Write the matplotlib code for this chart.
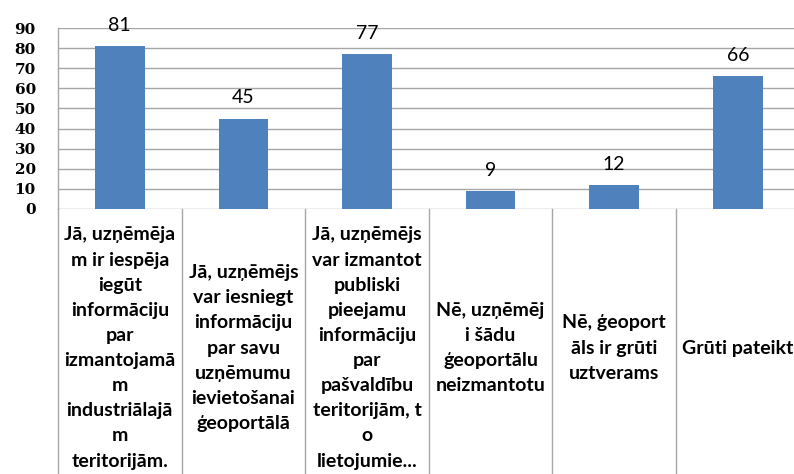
import matplotlib
matplotlib.use("Agg")
import matplotlib.pyplot as plt
import matplotlib.transforms as mtransforms

# survey answers and counts
categories = [
    "Jā, uzņēmēja\nm ir iespēja\niegūt\ninformāciju\npar\nizmantojamā\nm\nindustriālajā\nm\nteritorijām.",
    "Jā, uzņēmējs\nvar iesniegt\ninformāciju\npar savu\nuzņēmumu\nievietošanai\nģeoportālā",
    "Jā, uzņēmējs\nvar izmantot\npubliski\npieejamu\ninformāciju\npar\npašvaldību\nteritorijām, t\no\nlietojumie...",
    "Nē, uzņēmēj\ni šādu\nģeoportālu\nneizmantotu",
    "Nē, ģeoport\nāls ir grūti\nuztverams",
    "Grūti pateikt",
]
values = [81, 45, 77, 9, 12, 66]
yticks_vals = [0, 10, 20, 30, 40, 50, 60, 70, 80, 90]

bar_color = "#4F81BD"
grid_color = "#A6A6A6"

fig = plt.figure(figsize=(7.94, 4.74), dpi=100)
ax = fig.add_axes([58 / 794, 1 - 209 / 474, 736 / 794, 181 / 474])

x = list(range(len(values)))
ax.bar(x, values, width=0.40, color=bar_color, zorder=3)

ax.set_ylim(0, 90)
ax.set_xlim(-0.5, -0.5 + 736 / 123.6)
ax.set_yticks(yticks_vals)
ax.set_yticklabels([str(v) for v in yticks_vals], fontfamily="DejaVu Serif",
                   fontweight="bold", fontsize=11)
ax.tick_params(axis="y", length=0, pad=16)
ax.set_xticks([])
for v in yticks_vals:
    ax.axhline(v, color=grid_color, lw=1.0, zorder=1)
for s in ["top", "right", "bottom"]:
    ax.spines[s].set_visible(False)
ax.spines["left"].set_color(grid_color)
ax.spines["left"].set_linewidth(1.0)

# data labels
for xi, v in zip(x, values):
    ax.annotate(str(v), (xi, v), xytext=(0, 15), textcoords="offset points",
                ha="center", va="center", fontsize=14, fontfamily="Lato")

# category cells below the axis
trans = mtransforms.blended_transform_factory(ax.transData, ax.transAxes)
for i in range(len(values) + 1):
    ax.plot([i - 0.5, i - 0.5], [0, -1.6], color=grid_color, lw=1.0,
            transform=trans, clip_on=False)
for xi, lab in zip(x, categories):
    ax.text(xi, -0.768, lab, transform=trans, ha="center", va="center",
            multialignment="center", fontsize=14, fontweight="bold",
            fontfamily="Lato", linespacing=1.58)

fig.savefig("out.png", dpi=100)
